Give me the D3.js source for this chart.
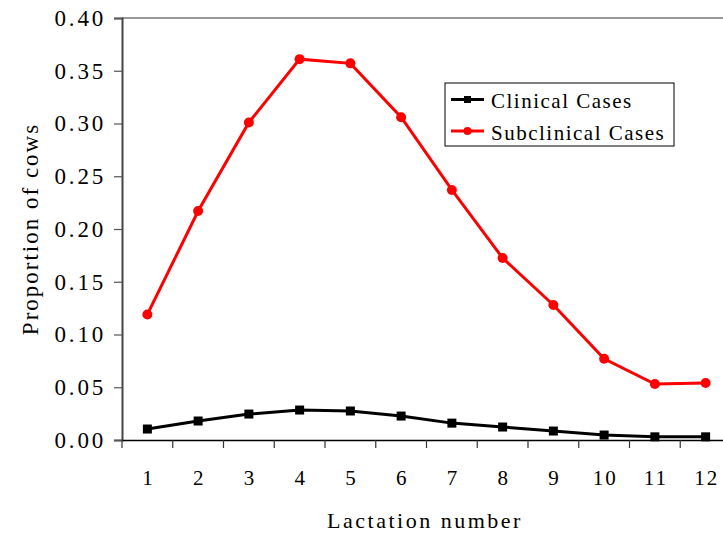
<!DOCTYPE html>
<html><head><meta charset="utf-8">
<script src="https://cdn.jsdelivr.net/npm/d3@7/dist/d3.min.js"></script>
<style>body{margin:0;background:#fff}text{font-family:"Liberation Serif","Times New Roman",serif;fill:#000}</style>
</head><body><svg id="c" width="723" height="534"></svg>
<script>
const categories = ["1","2","3","4","5","6","7","8","9","10","11","12"];
const clinical = [0.0104,0.018,0.0246,0.0284,0.0275,0.0227,0.016,0.0123,0.0085,0.0047,0.003,0.003];
const subclinical = [0.119,0.217,0.301,0.361,0.357,0.306,0.237,0.1725,0.128,0.077,0.053,0.054];
const yTicks = [0,0.05,0.10,0.15,0.20,0.25,0.30,0.35,0.40];
const seriesNames = ["Clinical Cases","Subclinical Cases"];

const svg = d3.select("#c");
const L=122, R=731, T=18, B=440;
const x = d3.scaleBand().domain(categories).range([L,R]);
const y = d3.scaleLinear().domain([0,0.40]).range([B,T]);

// top border
svg.append("line").attr("x1",L).attr("x2",723).attr("y1",T).attr("y2",T).attr("stroke","#777").attr("stroke-width",1.5);

// y axis
const ya = svg.append("g").attr("transform",`translate(${L},0)`)
  .call(d3.axisLeft(y).tickValues(yTicks).tickFormat(d3.format(".2f")).tickSize(8).tickPadding(8));
ya.select(".domain").attr("stroke","#444").attr("stroke-width",2);
ya.selectAll(".tick line").attr("stroke","#555").attr("stroke-width",1.2);
ya.selectAll("text").attr("font-size",23).attr("letter-spacing",2.8).style("font-family","Liberation Serif");

// x axis
const xa = svg.append("g").attr("transform",`translate(0,${B})`)
  .call(d3.axisBottom(x).tickSize(0).tickPadding(30));
xa.select(".domain").attr("stroke","#000").attr("stroke-width",1.5);
xa.selectAll("text").attr("font-size",21).attr("letter-spacing",2).attr("dx",1).style("font-family","Liberation Serif");
// ticks between categories
const bounds = categories.map(c=>x(c));
svg.append("g").selectAll("line").data(bounds).join("line")
  .attr("x1",d=>d).attr("x2",d=>d).attr("y1",B).attr("y2",B+8).attr("stroke","#333").attr("stroke-width",1.2);

const cx = c => x(c)+x.bandwidth()/2;
const line = d3.line().x((d,i)=>cx(categories[i])).y(d=>y(d));

// clinical
svg.append("path").datum(clinical).attr("d",line).attr("fill","none").attr("stroke","#000").attr("stroke-width",3);
svg.append("g").selectAll("rect").data(clinical).join("rect")
  .attr("x",(d,i)=>cx(categories[i])-4.5).attr("y",d=>y(d)-4.5).attr("width",9).attr("height",9).attr("fill","#000");

// subclinical
svg.append("path").datum(subclinical).attr("d",line).attr("fill","none").attr("stroke","#ff0000").attr("stroke-width",3);
svg.append("g").selectAll("circle").data(subclinical).join("circle")
  .attr("cx",(d,i)=>cx(categories[i])).attr("cy",d=>y(d)).attr("r",5).attr("fill","#ff0000");

// axis titles
svg.append("text").attr("x",425).attr("y",528).attr("text-anchor","middle").attr("font-size",22)
  .attr("letter-spacing",2.5).text("Lactation number");
svg.append("text").attr("transform","translate(38,229) rotate(-90)").attr("text-anchor","middle").attr("font-size",23)
  .attr("letter-spacing",2).text("Proportion of cows");

// legend
const lg = svg.append("g");
lg.append("rect").attr("x",445).attr("y",83).attr("width",229).attr("height",63).attr("fill","#fff").attr("stroke","#000").attr("stroke-width",1);
const colors = ["#000","#ff0000"];
seriesNames.forEach((n,i)=>{
  const yy = 99.5 + i*31.5;
  lg.append("line").attr("x1",451).attr("x2",484).attr("y1",yy).attr("y2",yy).attr("stroke",colors[i]).attr("stroke-width",3);
  if(i===0) lg.append("rect").attr("x",464).attr("y",yy-3.5).attr("width",7).attr("height",7).attr("fill","#000");
  else lg.append("circle").attr("cx",467.5).attr("cy",yy).attr("r",4).attr("fill","#ff0000");
  lg.append("text").attr("x",491).attr("y",108 + i*32).attr("font-size",21).attr("letter-spacing",1.5).text(n);
});
</script></body></html>
